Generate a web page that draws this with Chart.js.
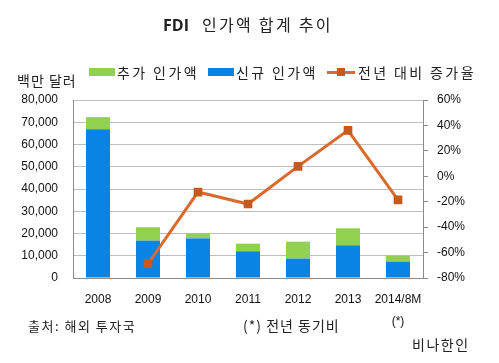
<!DOCTYPE html>
<html>
<head>
<meta charset="utf-8">
<script src="https://cdn.jsdelivr.net/npm/chart.js@4"></script>
<style>
  body { margin: 0; background: #fff; }
  #wrap { position: relative; width: 499px; height: 363px; font-family: "Noto Sans CJK KR", sans-serif; color: #222; }
  #chart { position: absolute; left: 0; top: 0; }
  .txt { position: absolute; white-space: nowrap; line-height: 1; letter-spacing: 1px; }
  #title { left: 163px; top: 16px; font-size: 16px; letter-spacing: 2.3px; }
  #title b { font-family: "Open Sans", sans-serif; font-weight: 700; margin-right: 13px; letter-spacing: 0; }
  #legend { position: absolute; left: 89px; top: 62px; font-size: 14px; display: flex; align-items: center; letter-spacing: 2.4px; }
  .item { display: flex; align-items: center; margin-right: 9px; }
  .box { width: 26px; height: 8px; margin-right: 2px; }
  .lineMark { position: relative; width: 28px; height: 3px; margin-right: 3px; }
  .lineMark span { position: absolute; left: 10px; top: -3px; width: 8px; height: 8px; }
</style>
</head>
<body>
<div id="wrap">
  <canvas id="chart" width="499" height="363"></canvas>
  <div class="txt" id="title"><b>FDI</b>인가액 합계 추이</div>
  <div id="legend"></div>
  <div class="txt" style="left:17px;top:73px;font-size:14px;">백만 달러</div>
  <div class="txt" style="left:28px;top:319px;font-size:13px;letter-spacing:1.5px;">출처: 해외 투자국</div>
  <div class="txt" style="left:243px;top:318px;font-size:14px;">(*) 전년 동기비</div>
  <div class="txt" style="left:412px;top:337px;font-size:14px;letter-spacing:1.5px;">비나한인</div>
</div>
<script>
// 데이터
const years = ['2008', '2009', '2010', '2011', '2012', '2013', ['2014/8M', '(*)']];
const newAmount = [66800, 16800, 17800, 12000, 8700, 14700, 7350];   // 신규 인가액
const addAmount = [5500, 6000, 2200, 3450, 7650, 7650, 2650];        // 추가 인가액
const growthRate = [null, -68.8, -12.4, -21.8, 7.8, 36.1, -18.6];    // 전년 대비 증가율 (%)
const seriesNames = ['추가 인가액', '신규 인가액', '전년 대비 증가율'];

const green = '#92D050';
const blue = '#0A84E4';
const orange = '#DA6A2C';
const marker = '#C65A1E';

const ctx = document.getElementById('chart').getContext('2d');
new Chart(ctx, {
  type: 'bar',
  data: {
    labels: years,
    datasets: [
      {
        label: seriesNames[1],
        data: newAmount,
        backgroundColor: blue,
        stack: 's',
        yAxisID: 'y',
        order: 2,
        barPercentage: 0.8,
        categoryPercentage: 0.6
      },
      {
        label: seriesNames[0],
        data: addAmount,
        backgroundColor: green,
        stack: 's',
        yAxisID: 'y',
        order: 2,
        barPercentage: 0.8,
        categoryPercentage: 0.6
      },
      {
        type: 'line',
        label: seriesNames[2],
        data: growthRate,
        borderColor: orange,
        borderWidth: 3,
        pointStyle: 'rect',
        pointRadius: 4,
        pointBackgroundColor: marker,
        pointBorderColor: marker,
        yAxisID: 'y1',
        order: 0,
        tension: 0
      }
    ]
  },
  options: {
    responsive: false,
    animation: false,
    layout: { padding: { top: 100, bottom: 0, left: 0, right: 0 } },
    plugins: {
      legend: { display: false },
      tooltip: { enabled: false }
    },
    scales: {
      x: {
        stacked: true,
        grid: { display: false },
        border: { color: '#8C8C8C' },
        ticks: {
          color: '#111',
          padding: 3,
          font: { family: 'Liberation Sans', size: 12, lineHeight: 1.8 },
          maxRotation: 0
        },
        afterFit: function (scale) { scale.height = 85; }
      },
      y: {
        stacked: true,
        position: 'left',
        min: 0,
        max: 80000,
        grid: { color: '#BEBEBE', drawTicks: false },
        border: { color: '#8C8C8C' },
        ticks: {
          stepSize: 10000,
          padding: 15,
          color: '#111',
          font: { family: 'Liberation Sans', size: 12 },
          callback: v => v.toLocaleString('en-US')
        },
        afterFit: function (scale) { scale.width = 73; }
      },
      y1: {
        position: 'right',
        min: -80,
        max: 60,
        grid: { drawOnChartArea: false, drawTicks: true, tickLength: 5, color: '#8C8C8C' },
        border: { color: '#8C8C8C' },
        ticks: {
          stepSize: 20,
          padding: 9,
          color: '#111',
          font: { family: 'Liberation Sans', size: 12 },
          callback: v => v + '%'
        },
        afterFit: function (scale) { scale.width = 76; }
      }
    }
  }
});

// 범례
const legend = document.getElementById('legend');
const legendItems = [
  { name: seriesNames[0], kind: 'box', color: green },
  { name: seriesNames[1], kind: 'box', color: blue },
  { name: seriesNames[2], kind: 'line', color: orange }
];
legendItems.forEach(function (it) {
  const div = document.createElement('div');
  div.className = 'item';
  if (it.kind === 'box') {
    div.innerHTML = `<div class="box" style="background:${it.color}"></div><span>${it.name}</span>`;
  } else {
    div.innerHTML = `<div class="lineMark" style="background:${it.color}"><span style="background:${marker}"></span></div><span>${it.name}</span>`;
  }
  legend.appendChild(div);
});
</script>
</body>
</html>
